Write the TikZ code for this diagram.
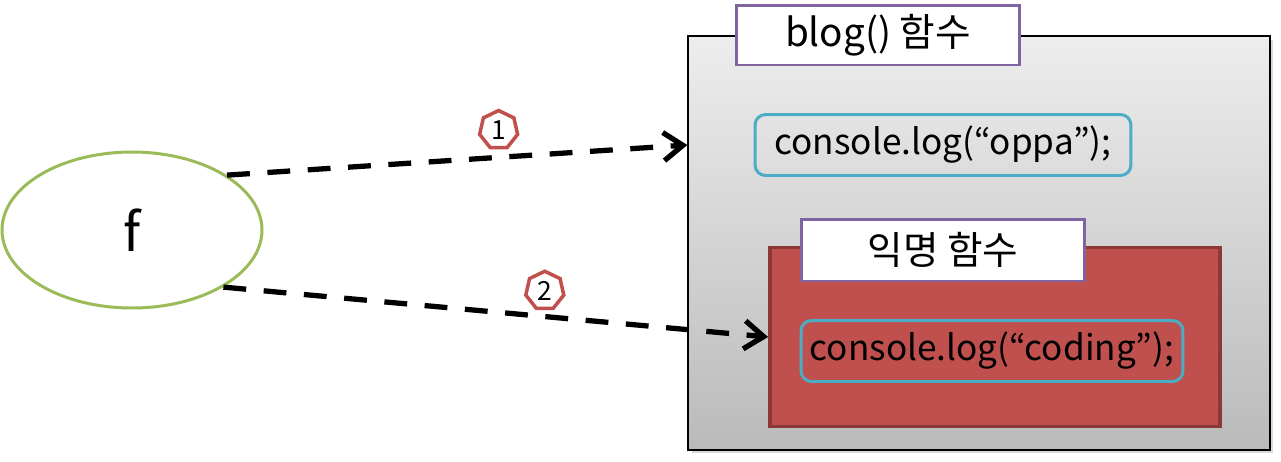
\documentclass[tikz,border=0pt]{standalone}
\usepackage{fontspec}
\setmainfont{Noto Sans CJK KR}
\usetikzlibrary{shapes.geometric,arrows.meta,shadows}
\definecolor{fngreen}{HTML}{9BBB59}
\definecolor{fnpurple}{HTML}{8064A2}
\definecolor{fncyan}{HTML}{4BACC6}
\definecolor{fnred}{HTML}{C0504D}
\definecolor{fndarkred}{HTML}{8C3836}

\begin{document}
\begin{tikzpicture}[x=0.02cm,y=-0.02cm,font=\fontsize{20}{24}\selectfont,
    title/.style={draw=fnpurple,line width=1.7pt,fill=white,minimum width=5.68cm,minimum height=1.2cm,inner sep=0pt,font=\fontsize{22}{26}\selectfont},
    code/.style={draw=fncyan,line width=1.7pt,rounded corners=6pt,minimum height=1.22cm,inner sep=0pt},
    dasharrow/.style={line width=3pt,dash pattern=on 13pt off 10pt,-{Straight Barb[length=11pt,width=16pt]}},
    numtag/.style={regular polygon,regular polygon sides=7,draw=fnred,solid,line width=2pt,fill=white,minimum size=0.78cm,inner sep=0pt,font=\fontsize{15}{15}\selectfont}]
    \useasboundingbox (0,0) rectangle (1281,461);

    \node[ellipse,draw=fngreen,line width=1.7pt,minimum width=5.2cm,minimum height=3.12cm,font=\fontsize{30}{30}\selectfont] (f) at (132,230) {f};

    % blog() function
    \node[draw=black,line width=0.8pt,top color=black!7,bottom color=black!27,minimum width=11.64cm,minimum height=8.28cm,
          drop shadow={opacity=0.3,shadow xshift=2pt,shadow yshift=-2pt}] (blog) at (979,243) {};
    \node[title] (blogtitle) at (878,35) {blog() 함수};
    \node[code,minimum width=7.52cm] (oppa) at (943,145) {console.log(“oppa”);};

    % anonymous function
    \node[draw=fndarkred,line width=2.2pt,fill=fnred,minimum width=9cm,minimum height=3.58cm] (anon) at (995,337) {};
    \node[title,minimum height=1.24cm] (anontitle) at (943,250) {익명 함수};
    \node[code,minimum width=7.64cm] (coding) at (992,351) {console.log(“coding”);};

    \coordinate (blogin) at (blog.west |- oppa);
    \draw[dasharrow] (f.30) -- node[pos=0.59,above=0.16cm,numtag] (one) {1} (blogin);
    \draw[dasharrow] (f.-32) -- node[pos=0.59,above=0.13cm,numtag] (two) {2} (anon.west);
\end{tikzpicture}
\end{document}
